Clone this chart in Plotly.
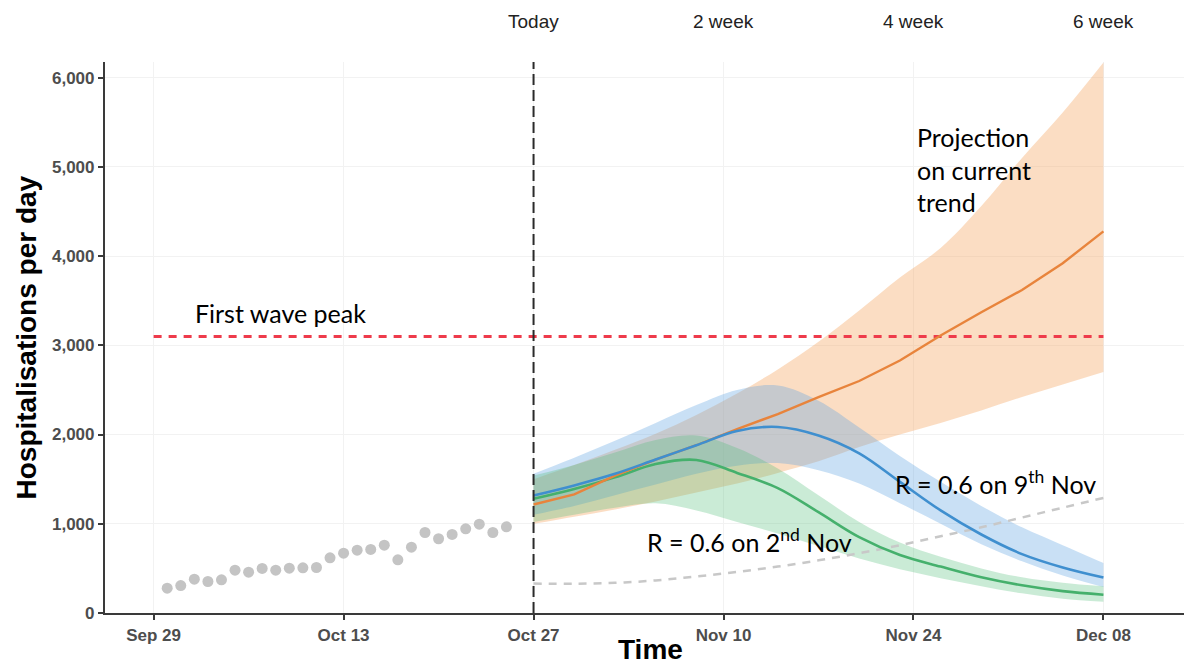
import pandas as pd
import plotly.graph_objects as go

# ---- observed daily hospitalisations (Sep 30 - Oct 25) ----
obs_start = "2020-09-30"
obs_values = [278, 308, 379, 353, 372, 480, 457, 499, 480, 502, 506, 510, 619,
              670, 704, 712, 760, 596, 738, 902, 832, 880, 944, 996, 902, 966]

# ---- projections: days after "today" (Oct 27) ----
today = "2020-10-27"
proj_days = [0, 3, 6, 9, 12, 15, 18, 21, 24, 27, 30, 33, 36, 39, 42]

trend_mid = [1216, 1330, 1540, 1720, 1880, 2060, 2230, 2420, 2600, 2830, 3110, 3370, 3620, 3920, 4277]
trend_hi = [1500, 1660, 1830, 2010, 2220, 2460, 2730, 3040, 3390, 3760, 4090, 4560, 5100, 5610, 6170]
trend_lo = [1000, 1080, 1160, 1250, 1350, 1450, 1570, 1700, 1860, 2000, 2130, 2270, 2420, 2560, 2700]

nov9_mid = [1317, 1430, 1560, 1720, 1880, 2040, 2085, 1990, 1790, 1470, 1150, 880, 660, 510, 397]
nov9_hi = [1560, 1740, 1930, 2130, 2330, 2500, 2550, 2380, 2080, 1760, 1470, 1200, 960, 760, 560]
nov9_lo = [1100, 1200, 1320, 1440, 1560, 1650, 1680, 1600, 1450, 1230, 1000, 770, 580, 420, 290]

nov2_mid = [1280, 1390, 1520, 1670, 1715, 1570, 1400, 1130, 850, 650, 520, 400, 310, 245, 205]
nov2_hi = [1540, 1660, 1800, 1940, 1990, 1850, 1620, 1320, 1020, 790, 630, 500, 400, 340, 300]
nov2_lo = [1020, 1100, 1180, 1230, 1150, 1020, 890, 750, 610, 490, 390, 300, 220, 160, 125]

baseline = [330, 328, 338, 365, 410, 460, 520, 590, 670, 760, 860, 960, 1070, 1180, 1290]

first_wave_peak = 3100
peak_span = ["2020-09-29", "2020-12-08"]

horizon_dates = ["2020-10-27", "2020-11-10", "2020-11-24", "2020-12-08"]
horizon_labels = ["Today", "2 week", "4 week", "6 week"]

x_tick_start = "2020-09-29"
y_ticks = [0, 1000, 2000, 3000, 4000, 5000, 6000]

# ---- derived dates ----
obs_dates = pd.date_range(obs_start, periods=len(obs_values), freq="D")
proj_dates = pd.Timestamp(today) + pd.to_timedelta(proj_days, unit="D")

TICK_FONT = dict(family="Liberation Sans, Arial, sans-serif", size=17, color="#4d4d4d", weight="bold")
NOTE_FONT = dict(family="Lato, Open Sans, sans-serif", size=25, color="#000000")

fig = go.Figure()


def band(lo, hi, fill):
    fig.add_trace(go.Scatter(x=proj_dates, y=lo, mode="lines", line=dict(width=0, shape="spline"),
                             hoverinfo="skip", showlegend=False))
    fig.add_trace(go.Scatter(x=proj_dates, y=hi, mode="lines", line=dict(width=0, shape="spline"),
                             fill="tonexty", fillcolor=fill, hoverinfo="skip", showlegend=False))


band(trend_lo, trend_hi, "rgba(245,160,90,0.36)")
band(nov9_lo, nov9_hi, "rgba(90,160,225,0.33)")
band(nov2_lo, nov2_hi, "rgba(80,190,120,0.30)")

# no-change baseline
fig.add_trace(go.Scatter(x=proj_dates, y=baseline, mode="lines",
                         line=dict(color="#c8c8c8", width=2.5, dash="8px,7px", shape="spline"),
                         showlegend=False))

# first wave peak reference
fig.add_trace(go.Scatter(x=peak_span, y=[first_wave_peak, first_wave_peak], mode="lines",
                         line=dict(color="#ee3b4b", width=3, dash="8px,7px"), showlegend=False))

fig.add_trace(go.Scatter(x=proj_dates, y=nov2_mid, mode="lines",
                         line=dict(color="#45b06c", width=2.6, shape="spline"), showlegend=False))
fig.add_trace(go.Scatter(x=proj_dates, y=trend_mid, mode="lines",
                         line=dict(color="#e8843c", width=2.4), showlegend=False))
fig.add_trace(go.Scatter(x=proj_dates, y=nov9_mid, mode="lines",
                         line=dict(color="#3f8fcf", width=2.6, shape="spline"), showlegend=False))

# observed points
fig.add_trace(go.Scatter(x=obs_dates, y=obs_values, mode="markers",
                         marker=dict(color="#c4c4c4", size=11), showlegend=False))

# "today" marker
fig.add_shape(type="line", x0=today, x1=today, xref="x", y0=0, y1=1, yref="paper",
              line=dict(color="#2a2a2a", width=2, dash="11px,5px"))

# horizon labels above the panel
for d, lab in zip(horizon_dates, horizon_labels):
    fig.add_annotation(x=d, xref="x", y=1.0726, yref="paper", text=lab, showarrow=False,
                       xanchor="center", yanchor="middle",
                       font=dict(family="Liberation Sans, Arial, sans-serif", size=19, color="#222222"))

fig.add_annotation(x=0.0816, y=0.544, xref="paper", yref="paper", text="First wave peak",
                   showarrow=False, xanchor="left", yanchor="middle", font=NOTE_FONT)
fig.add_annotation(x=0.7507, y=0.8057, xref="paper", yref="paper",
                   text="Projection<br>on current<br>trend", align="left",
                   showarrow=False, xanchor="left", yanchor="middle", font=NOTE_FONT)
fig.add_annotation(x=0.7303, y=0.2373, xref="paper", yref="paper",
                   text="R = 0.6 on 9<sup>th</sup> Nov",
                   showarrow=False, xanchor="left", yanchor="middle", font=NOTE_FONT)
fig.add_annotation(x=0.5005, y=0.132, xref="paper", yref="paper",
                   text="R = 0.6 on 2<sup>nd</sup> Nov",
                   showarrow=False, xanchor="left", yanchor="middle", font=NOTE_FONT)

# axis titles
TITLE_FONT = dict(family="Liberation Sans, Arial, sans-serif", size=28, color="#000000", weight="bold")
fig.add_annotation(x=-0.0723, y=0.5, xref="paper", yref="paper", text="Hospitalisations per day",
                   textangle=-90, showarrow=False, xanchor="center", yanchor="middle", font=TITLE_FONT)
fig.add_annotation(x=0.506, y=-0.0659, xref="paper", yref="paper", text="Time",
                   showarrow=False, xanchor="center", yanchor="middle", font=TITLE_FONT)

fig.update_layout(
    width=1184, height=667,
    margin=dict(l=105, r=0, t=62, b=54),
    paper_bgcolor="white", plot_bgcolor="white",
    showlegend=False,
)
fig.update_xaxes(
    type="date", range=["2020-09-25 10:00", "2020-12-13 22:30"],
    tick0=x_tick_start, dtick=14 * 86400000, tickformat="%b %d",
    showline=True, linecolor="#3a3a3a", linewidth=2.2,
    ticks="outside", ticklen=5, tickwidth=1.5, tickcolor="#3a3a3a",
    showgrid=True, gridcolor="#f2f2f2", gridwidth=1, zeroline=False,
    tickfont=TICK_FONT,
)
fig.update_yaxes(
    range=[0, 6175], tickvals=y_ticks, tickformat=",d",
    showline=True, linecolor="#3a3a3a", linewidth=2.2,
    ticks="outside", ticklen=5, tickwidth=1.5, tickcolor="#3a3a3a",
    showgrid=True, gridcolor="#f2f2f2", gridwidth=1, zeroline=False,
    tickfont=TICK_FONT,
)

fig.write_html("out.html")
